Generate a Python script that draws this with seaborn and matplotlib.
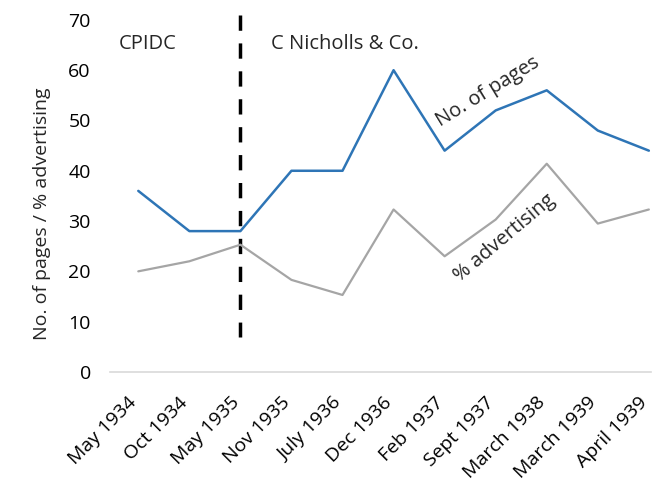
import matplotlib
matplotlib.use('Agg')
import matplotlib.pyplot as plt
import matplotlib.transforms as mtransforms
import pandas as pd
import seaborn as sns

# issue dates and values
issues = ['May 1934', 'Oct 1934', 'May 1935', 'Nov 1935', 'July 1936', 'Dec 1936',
          'Feb 1937', 'Sept 1937', 'March 1938', 'March 1939', 'April 1939']
pages = [36, 28, 28, 40, 40, 60, 44, 52, 56, 48, 44]
advertising = [20, 22, 25.3, 18.3, 15.3, 32.3, 23, 30.3, 41.4, 29.5, 32.3]
change_issue = 'May 1935'
yticks = [0, 10, 20, 30, 40, 50, 60, 70]

sns.set_theme(style='white')
plt.rcParams['font.family'] = ['Open Sans', 'DejaVu Sans']

df = pd.DataFrame({'issue': issues, 'pos': range(len(issues)),
                   'pages': pages, 'advertising': advertising})

fig = plt.figure(figsize=(6.56, 4.83), dpi=100)
ax = fig.add_axes([0.168, 0.23, 0.825, 0.76])

sns.lineplot(data=df, x='pos', y='advertising', color='#A5A5A5', linewidth=1.6, ax=ax)
sns.lineplot(data=df, x='pos', y='pages', color='#2E75B6', linewidth=1.8, ax=ax)

# change of publisher, drawn top-down so the dashes start at the top
xc = issues.index(change_issue)
ax.plot([xc, xc], [71, 7], color='black', linestyle=(0, (4.4, 3.64)), linewidth=2.5,
        zorder=1, clip_on=False)

ax.set_xlim(-0.55, 10.05)
ax.set_ylim(0, 73)
ax.set_yticks(yticks)
ax.set_xticks(range(len(issues)))
ax.set_xticklabels(issues, rotation=45, ha='right', va='center', rotation_mode='anchor')
ax.tick_params(axis='both', labelsize=14, length=0, colors='#000000')
ax.tick_params(axis='x', pad=20)
ax.tick_params(axis='y', pad=14)
shift = mtransforms.ScaledTranslation(-3 / 72, 0, fig.dpi_scale_trans)
for lab in ax.get_xticklabels():
    lab.set_transform(lab.get_transform() + shift)
ax.set_xlabel('')
ax.set_ylabel('No. of pages / % advertising', fontsize=14)
ax.yaxis.label.set_va('center')
ax.yaxis.set_label_coords(-0.126, 0.43)

for side in ['top', 'right', 'left']:
    ax.spines[side].set_visible(False)
ax.spines['bottom'].set_color('#D9D9D9')
ax.spines['bottom'].set_linewidth(1.2)

ax.text(-0.39, 65.3, 'CPIDC', fontsize=14.5, va='center', ha='left')
ax.text(2.59, 65.3, 'C Nicholls & Co.', fontsize=14.5, va='center', ha='left')
ax.text(6.84, 55.7, 'No. of pages', fontsize=14.5, rotation=31.5, ha='center', va='center')
ax.text(7.17, 26.6, '% advertising', fontsize=14.5, rotation=40, ha='center', va='center')

fig.savefig('out.png', dpi=100)
